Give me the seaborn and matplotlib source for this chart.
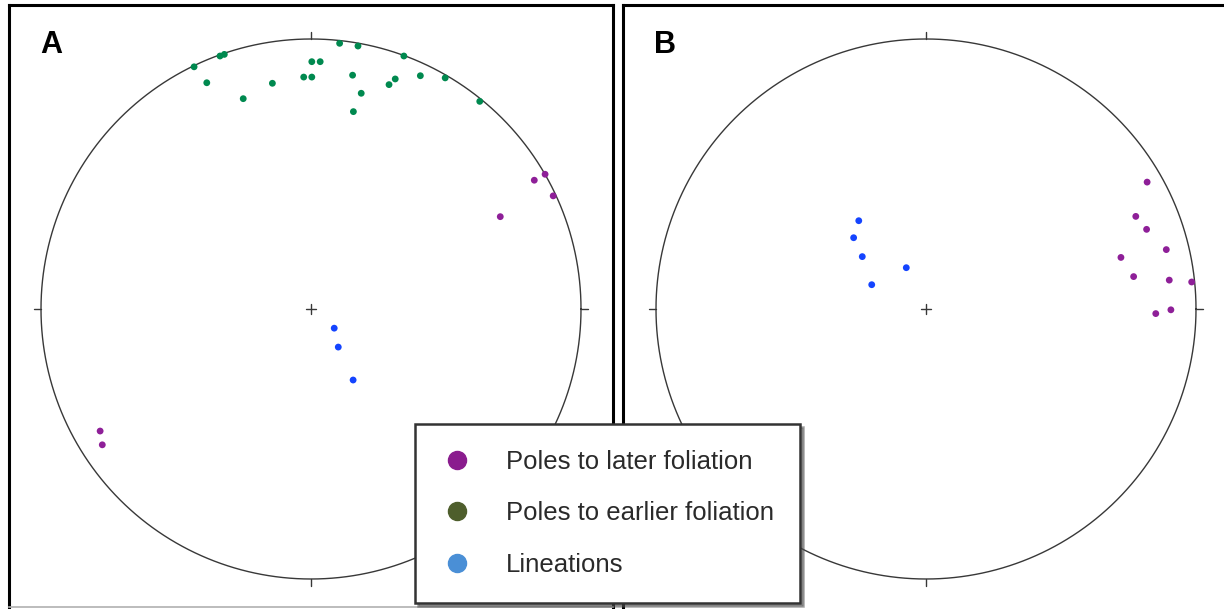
# stereonet plots of foliation poles and lineations, panels A and B
import matplotlib
matplotlib.use("Agg")

import numpy as np
import pandas as pd
import matplotlib.pyplot as plt
import seaborn as sns
from matplotlib.lines import Line2D

# ---- data (unit-circle coordinates) ----
# panel A
a_later_x = [0.867, 0.827, 0.897, 0.701, -0.781, -0.773]
a_later_y = [0.499, 0.477, 0.419, 0.342, -0.452, -0.503]

a_earlier_x = [-0.433, -0.337, -0.321, -0.386, -0.251, -0.143, 0.003, 0.034, -0.027, 0.003,
               0.106, 0.174, 0.154, 0.186, 0.157, 0.289, 0.312, 0.344, 0.405, 0.497, 0.625]
a_earlier_y = [0.897, 0.937, 0.943, 0.838, 0.779, 0.836, 0.916, 0.916, 0.859, 0.859,
               0.984, 0.974, 0.866, 0.799, 0.731, 0.831, 0.852, 0.937, 0.864, 0.856, 0.769]

a_lin_x = [0.086, 0.101, 0.156]
a_lin_y = [-0.071, -0.141, -0.263]

# panel B
b_later_x = [0.819, 0.777, 0.817, 0.890, 0.722, 0.769, 0.901, 0.984, 0.907, 0.851]
b_later_y = [0.470, 0.343, 0.295, 0.220, 0.191, 0.120, 0.107, 0.100, -0.003, -0.017]

b_lin_x = [-0.249, -0.268, -0.236, -0.073, -0.201]
b_lin_y = [0.327, 0.264, 0.194, 0.153, 0.090]

panel_labels = ["A", "B"]
legend_labels = ["Poles to later foliation", "Poles to earlier foliation", "Lineations"]
legend_colors = ["#8a1c8e", "#4e5e2c", "#4a8fd6"]
point_colors = {"later": "#8e1f98", "earlier": "#00894f", "lineation": "#1444ff"}


def build_frame(later_x, later_y, earlier_x, earlier_y, lin_x, lin_y):
    # long table: one row per point with its group
    parts = [
        pd.DataFrame({"x": later_x, "y": later_y, "kind": "later"}),
        pd.DataFrame({"x": earlier_x, "y": earlier_y, "kind": "earlier"}),
        pd.DataFrame({"x": lin_x, "y": lin_y, "kind": "lineation"}),
    ]
    return pd.concat(parts, ignore_index=True)


df_a = build_frame(a_later_x, a_later_y, a_earlier_x, a_earlier_y, a_lin_x, a_lin_y)
df_b = build_frame(b_later_x, b_later_y, [], [], b_lin_x, b_lin_y)

sns.set_style("white")
plt.rcParams["font.family"] = ["Liberation Sans", "DejaVu Sans"]

W, H = 1224, 609
fig = plt.figure(figsize=(W / 100, H / 100), dpi=100)

# axes boxes in pixels: (left, top, right, bottom), circle centre, radius
R = 270.0
boxes = [
    ((9, 5, 613, 607), (311, 309)),
    ((623, 5, 1226, 611), (926, 309)),
]

axes = []
for (l, t, r, b), (cx, cy) in boxes:
    ax = fig.add_axes([l / W, 1 - b / H, (r - l) / W, (b - t) / H])
    ax.set_xlim((l - cx) / R, (r - cx) / R)
    ax.set_ylim((cy - b) / R, (cy - t) / R)
    axes.append(ax)

for ax, df, label in zip(axes, [df_a, df_b], panel_labels):
    # primitive circle
    theta = np.linspace(0, 2 * np.pi, 721)
    ax.plot(np.cos(theta), np.sin(theta), color="#383838", lw=1.0, zorder=1)

    # N/E/S/W tick marks and centre cross
    tk = 0.025
    ax.plot([0, 0], [1, 1 + tk], color="#383838", lw=1.0)
    ax.plot([0, 0], [-1, -1 - tk], color="#383838", lw=1.0)
    ax.plot([1, 1 + tk], [0, 0], color="#383838", lw=1.0)
    ax.plot([-1, -1 - tk], [0, 0], color="#383838", lw=1.0)
    cr = 0.02
    ax.plot([-cr, cr], [0, 0], color="#383838", lw=1.0)
    ax.plot([0, 0], [-cr, cr], color="#383838", lw=1.0)

    sns.scatterplot(data=df, x="x", y="y", hue="kind", palette=point_colors,
                    s=24, linewidth=0, legend=False, ax=ax, zorder=3)

    ax.set_xticks([])
    ax.set_yticks([])
    ax.set_xlabel("")
    ax.set_ylabel("")

    ax.text(0.051, 0.958, label, transform=ax.transAxes, fontsize=22,
            fontweight="bold", va="top", ha="left", color="black")

# frame styling: thick black left/top, thin grey otherwise
for ax in axes:
    for side in ["left", "top", "right"]:
        ax.spines[side].set_color("black")
        ax.spines[side].set_linewidth(2.2)
    ax.spines["bottom"].set_color("#b0b0b0")
    ax.spines["bottom"].set_linewidth(1.2)
axes[1].spines["right"].set_visible(False)
axes[1].spines["bottom"].set_visible(False)

# legend box at bottom centre
handles = [Line2D([0], [0], marker="o", linestyle="", markersize=13,
                  markerfacecolor=c, markeredgecolor=c) for c in legend_colors]
leg = fig.legend(handles, legend_labels, loc="upper left",
                 bbox_to_anchor=(415 / W, 1 - 424 / H),
                 fontsize=18.5, frameon=True, fancybox=False, shadow=True,
                 borderpad=1.0, labelspacing=1.08, handlelength=1.3,
                 handletextpad=1.25, borderaxespad=0)
leg.get_frame().set_edgecolor("#333333")
leg.get_frame().set_linewidth(1.8)
for txt in leg.get_texts():
    txt.set_color("#2a2a2a")

plt.savefig("out.png", dpi=100)
plt.close()
